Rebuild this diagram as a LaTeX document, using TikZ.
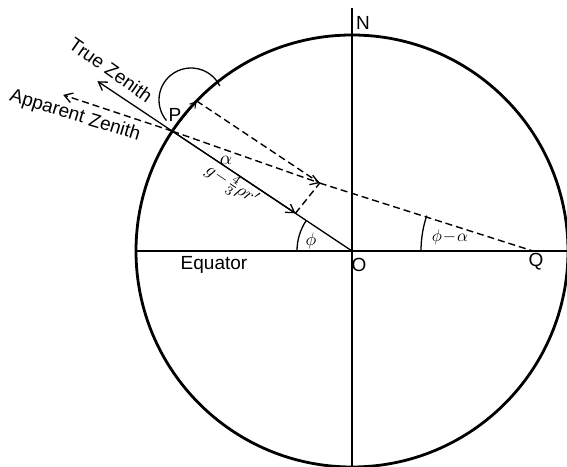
\documentclass[tikz,border=0pt]{standalone}
\usepackage{fontspec}
\setmainfont{Liberation Sans}
\usetikzlibrary{calc,arrows.meta}
\tikzset{
  lbl/.style={inner sep=0pt, font=\fontsize{19}{22}\selectfont},
  mlbl/.style={inner sep=0pt, font=\normalsize},
  thin line/.style={line width=1.3pt},
  dsh/.style={line width=1.4pt, dash pattern=on 7pt off 4pt},
  barb/.style={-{Straight Barb[length=8pt,width=10pt,line width=1.3pt]}},
}
\begin{document}
\begin{tikzpicture}[x=1pt,y=1pt]
\useasboundingbox (0,0) rectangle (567,466);
\coordinate (O) at (352,215);
\coordinate (P) at ($(O)+(146.3:216)$);
\coordinate (T) at ($(O)+(136:216)$);
\coordinate (Q) at (533,215);
\coordinate (G) at ($(P)!148pt!(O)$);
\coordinate (R) at ($(G)+(T)-(P)$);
\coordinate (TZ) at ($(P)!-90pt!(O)$);
\coordinate (AZ) at ($(P)!-115pt!(Q)$);
\coordinate (W) at ($(O)+(180:216)$);
\coordinate (E) at ($(O)+(0:216)$);
\coordinate (Ntop) at (352,458);
\coordinate (S) at (352,0);
% earth
\draw[line width=2.8pt] (O) circle[radius=216];
\draw[thin line] (Ntop) -- (S);
\draw[thin line] (W) -- (E);
% zenith directions
\draw[thin line, barb] (P) -- (TZ);
\draw[dsh, barb] (P) -- (AZ);
% forces
\draw[thin line] (P) -- (O);
\draw[thin line, barb] (P) -- (G);
\draw[line width=1pt, -{Straight Barb[length=6pt,width=7pt,line width=1pt]}] (P) -- (T);
\draw[dsh] (T) -- (R);
\draw[dsh] (G) -- (R);
\draw[dsh, barb] (P) -- (R);
\draw[dsh] (R) -- (Q);
% angle marks
\draw[thin line] ($(O)+(180:55)$) arc[start angle=180, end angle=146.3, radius=55];
\draw[thin line] ($(Q)+(180:112)$) arc[start angle=180, end angle=161.6, radius=112];
\draw[thin line] ($(191,366)+(220:32)$) arc[start angle=220, end angle=26, radius=32];
% labels
\node[lbl, rotate=-35] (tzl) at (111,396) {True Zenith};
\node[lbl, rotate=-17] (azl) at (75,350) {Apparent Zenith};
\node[lbl] (pl) at (175,351) {P};
\node[mlbl] (al) at (226,306) {\scalebox{1.9}{$\alpha$}};
\node[mlbl, rotate=-34] (gl) at (232,281) {\scalebox{1.8}{$g\!-\!\frac{4}{3}\rho r'$}};
\node[mlbl] (phl) at (311,225) {\scalebox{1.8}{$\phi$}};
\node[mlbl] (pal) at (450,229) {\scalebox{1.7}{$\phi\!-\!\alpha$}};
\node[lbl] (eql) at (214,201) {Equator};
\node[lbl] (ol) at (359,201) {O};
\node[lbl] (ql) at (536,204) {Q};
\node[lbl] (nl) at (363,443) {N};
\end{tikzpicture}
\end{document}
